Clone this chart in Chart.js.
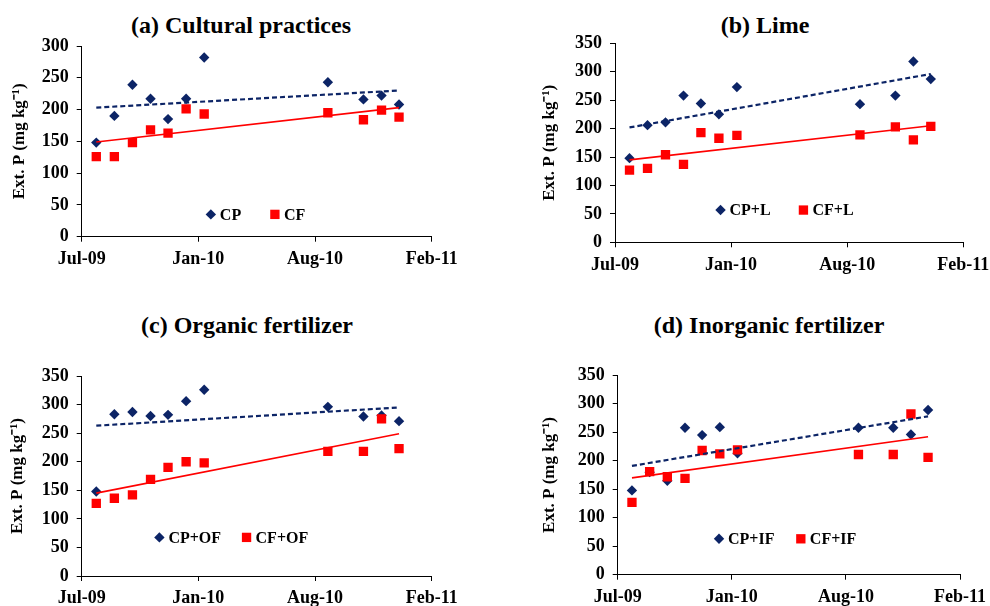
<!DOCTYPE html>
<html>
<head>
<meta charset="utf-8">
<script src="https://cdn.jsdelivr.net/npm/chart.js@4.4.1/dist/chart.umd.min.js"></script>
<style>
  html, body { margin: 0; padding: 0; background: #fff; }
  #page { position: relative; width: 990px; height: 606px; overflow: hidden; }
  .panel { position: absolute; width: 495px; height: 303px; }
  .ttl { position: absolute; width: 400px; text-align: center; color: #000; white-space: nowrap;
         font: bold 24px 'Liberation Serif', 'Times New Roman', serif; line-height: 28px; }
</style>
</head>
<body>
<div id="page">
  <div class="ttl" style="left:41px; top:11px">(a) Cultural practices</div>
  <div class="ttl" style="left:565px; top:11px">(b) Lime</div>
  <div class="ttl" style="left:47px; top:311px">(c) Organic fertilizer</div>
  <div class="ttl" style="left:569px; top:311px">(d) Inorganic fertilizer</div>
  <div class="panel" style="left:0; top:0"><canvas id="chartA" width="495" height="303"></canvas></div>
  <div class="panel" style="left:495px; top:0"><canvas id="chartB" width="495" height="303"></canvas></div>
  <div class="panel" style="left:0; top:303px"><canvas id="chartC" width="495" height="303"></canvas></div>
  <div class="panel" style="left:495px; top:303px"><canvas id="chartD" width="495" height="303"></canvas></div>
</div>
<script>
// ===== Data =====
// sampling dates, in days after 1 Jul 2009
const sampleDays = [25, 56, 87, 118, 148, 179, 210, 422, 483, 514, 544];
const xTickDays = [0, 200, 400, 600];
const xTickLabels = ['Jul-09', 'Jan-10', 'Aug-10', 'Feb-11'];

// (a) Cultural practices
const legendA = ['CP', 'CF'];
const cpA = [148, 190, 239, 217, 185, 217, 282, 243, 216, 222, 208];
const cfA = [126, 126, 148, 168, 163, 201, 193, 195, 184, 199, 188];
const cpTrendA = [203, 230];
const cfTrendA = [149, 203];

// (b) Lime
const legendB = ['CP+L', 'CF+L'];
const cpB = [148, 206, 211, 258, 244, 225, 273, 243, 258, 318, 287];
const cfB = [127, 130, 154, 137, 193, 183, 188, 189, 203, 180, 204];
const cpTrendB = [202, 296];
const cfTrendB = [145, 205];

// (c) Organic fertilizer
const legendC = ['CP+OF', 'CF+OF'];
const cpC = [148, 283, 287, 280, 282, 306, 326, 296, 279, 281, 271];
const cfC = [127, 136, 142, 169, 190, 200, 198, 218, 218, 275, 223];
const cpTrendC = [263, 295];
const cfTrendC = [145, 249];

// (d) Inorganic fertilizer
const legendD = ['CP+IF', 'CF+IF'];
const cpD = [148, 180, 165, 258, 245, 259, 213, 258, 258, 246, 289];
const cfD = [127, 181, 172, 169, 218, 212, 219, 211, 211, 282, 206];
const cpTrendD = [191, 278];
const cfTrendD = [170, 242];

const NAVY = '#0C2466';
const RED = '#FF0000';
const FONT = "'Liberation Serif', 'Times New Roman', serif";

Chart.defaults.font.family = FONT;
Chart.defaults.color = '#000';

// ===== Panel layout =====
const panels = [
  { id: 'chartA', cp: cpA, cf: cfA, cpTrend: cpTrendA, cfTrend: cfTrendA, names: legendA, yMax: 300,
    pad: { left: 9.8, right: 63.3, top: 46, bottom: 0 }, yW: 71.9, xH: 66.3,
    legendAt: [[0.369, 0.883], [0.552, 0.883]] },
  { id: 'chartB', cp: cpB, cf: cfB, cpTrend: cpTrendB, cfTrend: cfTrendB, names: legendB, yMax: 350,
    pad: { left: 44.8, right: 26.7, top: 43.3, bottom: 0 }, yW: 75.2, xH: 60.7,
    legendAt: [[0.303, 0.838], [0.541, 0.838]] },
  { id: 'chartC', cp: cpC, cf: cfC, cpTrend: cpTrendC, cfTrend: cfTrendC, names: legendC, yMax: 350,
    pad: { left: 7.8, right: 63.3, top: 73, bottom: 0 }, yW: 73.9, xH: 30,
    legendAt: [[0.222, 0.807], [0.471, 0.807]] },
  { id: 'chartD', cp: cpD, cf: cfD, cpTrend: cpTrendD, cfTrend: cfTrendD, names: legendD, yMax: 350,
    pad: { left: 44.5, right: 30, top: 72.3, bottom: 0 }, yW: 78.2, xH: 31.3,
    legendAt: [[0.296, 0.82], [0.535, 0.82]] }
];

function toPoints(vals) {
  return vals.map((v, i) => ({ x: sampleDays[i], y: v }));
}

function trendPoints(ends) {
  return [{ x: sampleDays[0], y: ends[0] }, { x: sampleDays[sampleDays.length - 1], y: ends[1] }];
}

function zeroPad(s) {
  s.paddingLeft = 0; s.paddingRight = 0; s.paddingTop = 0; s.paddingBottom = 0;
}

function drawMarker(ctx, style, r, color, x, y) {
  ctx.fillStyle = color;
  ctx.beginPath();
  if (style === 'rectRot') {
    ctx.moveTo(x, y - r); ctx.lineTo(x + r, y); ctx.lineTo(x, y + r); ctx.lineTo(x - r, y);
  } else {
    const h = r * Math.SQRT1_2;
    ctx.rect(x - h, y - h, 2 * h, 2 * h);
  }
  ctx.closePath();
  ctx.fill();
}

// legend drawn inside the plot area, like the Excel original
const insideLegend = {
  id: 'insideLegend',
  afterDatasetsDraw(chart, args, opts) {
    const { ctx, chartArea: a } = chart;
    ctx.save();
    ctx.font = 'bold 16px ' + FONT;
    ctx.textBaseline = 'middle';
    opts.items.forEach(it => {
      const ds = chart.data.datasets[it.dataset];
      const x = a.left + it.at[0] * (a.right - a.left);
      const y = a.top + it.at[1] * (a.bottom - a.top);
      drawMarker(ctx, ds.pointStyle, ds.pointRadius, ds.pointBackgroundColor, x, y);
      ctx.fillStyle = '#000';
      ctx.fillText(ds.label, x + 9, y + 1);
    });
    ctx.restore();
  }
};

const axisGrid = { drawOnChartArea: false, drawTicks: true, tickLength: 5, color: '#000', lineWidth: 1 };
const axisBorder = { color: '#000', width: 1 };
const tickFont = { size: 18, weight: 'bold' };

panels.forEach(p => {
  new Chart(document.getElementById(p.id), {
    type: 'scatter',
    data: {
      datasets: [
        { type: 'line', label: p.names[0] + ' trend', data: trendPoints(p.cpTrend), borderColor: NAVY,
          borderWidth: 2.2, borderDash: [5, 3], pointRadius: 0, fill: false, order: 0 },
        { type: 'line', label: p.names[1] + ' trend', data: trendPoints(p.cfTrend), borderColor: RED,
          borderWidth: 1.6, pointRadius: 0, fill: false, order: 0 },
        { label: p.names[0], data: toPoints(p.cp), pointStyle: 'rectRot', pointRadius: 5.2,
          pointBackgroundColor: NAVY, backgroundColor: NAVY, pointBorderWidth: 0, borderWidth: 0, order: 2 },
        { label: p.names[1], data: toPoints(p.cf), pointStyle: 'rect', pointRadius: 6.6,
          pointBackgroundColor: RED, backgroundColor: RED, pointBorderWidth: 0, borderWidth: 0, order: 1 }
      ]
    },
    options: {
      responsive: false,
      devicePixelRatio: 1,
      animation: false,
      layout: { padding: p.pad },
      plugins: {
        legend: { display: false },
        tooltip: { enabled: false },
        insideLegend: { items: [{ dataset: 2, at: p.legendAt[0] }, { dataset: 3, at: p.legendAt[1] }] }
      },
      scales: {
        x: {
          type: 'linear',
          min: xTickDays[0],
          max: xTickDays[xTickDays.length - 1],
          afterBuildTicks: s => { s.ticks = xTickDays.map(v => ({ value: v })); },
          afterFit: s => { s.height = p.xH; zeroPad(s); },
          ticks: { callback: (v, i) => xTickLabels[i], font: tickFont, color: '#000', padding: 7,
                   maxRotation: 0, autoSkip: false },
          grid: axisGrid,
          border: axisBorder
        },
        y: {
          min: 0,
          max: p.yMax,
          afterFit: s => { s.width = p.yW; zeroPad(s); },
          ticks: { stepSize: 50, font: tickFont, color: '#000', padding: 8 },
          grid: axisGrid,
          border: axisBorder,
          title: { display: true, text: 'Ext. P (mg kg⁻¹)', font: { size: 17, weight: 'bold' }, color: '#000', padding: 0 }
        }
      }
    },
    plugins: [insideLegend]
  });
});
</script>
</body>
</html>
